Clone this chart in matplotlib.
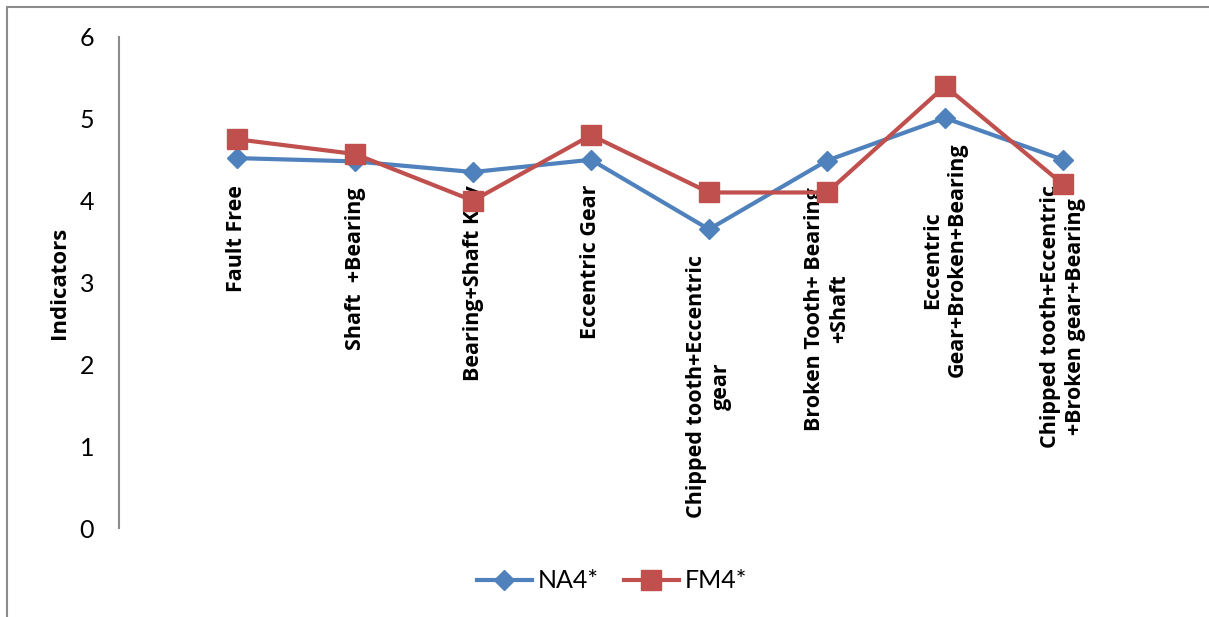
import matplotlib
matplotlib.use("Agg")
import matplotlib.pyplot as plt
from matplotlib.patches import Rectangle
from matplotlib.lines import Line2D

categories = [
    "Fault Free",
    "Shaft  +Bearing",
    "Bearing+Shaft Key",
    "Eccentric Gear",
    "Chipped tooth+Eccentric\ngear",
    "Broken Tooth+ Bearing\n+Shaft",
    "Eccentric\nGear+Broken+Bearing",
    "Chipped tooth+Eccentric\n+Broken gear+Bearing",
]
na4 = [4.52, 4.48, 4.35, 4.50, 3.65, 4.49, 5.01, 4.50]
fm4 = [4.75, 4.57, 4.00, 4.80, 4.10, 4.10, 5.40, 4.20]
y_ticks = [0, 1, 2, 3, 4, 5, 6]

BLUE = "#4F81BD"
RED = "#C0504D"
GRAY = "#8C8C8C"
FONT = "Lato"
BOLD_FONT = "Open Sans"

W, H = 1209, 617
fig = plt.figure(figsize=(W / 100, H / 100), dpi=100)

# outer chart frame
fig.add_artist(Rectangle((7 / W, -0.05), 1.2, 1 - 7 / H + 0.05, transform=fig.transFigure,
                         fill=False, edgecolor=GRAY, linewidth=1.5))

ax = fig.add_axes([119 / W, (H - 528) / H, (1181 - 119) / W, (528 - 37) / H])
x = list(range(len(categories)))
ax.plot(x, na4, color=BLUE, lw=3, marker="D", ms=10, zorder=3)
ax.plot(x, fm4, color=RED, lw=3, marker="s", ms=14, zorder=3)

ax.set_xlim(-1, 8)
ax.set_ylim(0, 6)
ax.set_yticks(y_ticks)
ax.set_yticklabels([str(v) for v in y_ticks], fontfamily=FONT, fontsize=18)
ax.tick_params(axis="y", length=0, pad=18)
ax.set_xticks([])
for s in ("top", "right", "bottom"):
    ax.spines[s].set_visible(False)
ax.spines["left"].set_color(GRAY)
ax.spines["left"].set_linewidth(1.5)
ax.patch.set_alpha(0)

ax.set_ylabel("Indicators", fontfamily=BOLD_FONT, fontsize=16, fontweight="bold", labelpad=7)

# category names, written vertically under the points
label_tops = [4.19, 4.16, 4.19, 4.19, 3.34, 4.17, 4.71, 4.19]
for xi, name, top in zip(x, categories, label_tops):
    ax.text(xi, top, name, rotation=90, ha="center", va="top", multialignment="center",
            fontfamily=BOLD_FONT, fontsize=15.5, fontweight="bold", zorder=2, linespacing=1.22)

handles = [
    Line2D([], [], color=BLUE, lw=3, marker="D", ms=10),
    Line2D([], [], color=RED, lw=3, marker="s", ms=14),
]
fig.legend(handles, ["NA4*", "FM4*"], loc="center", bbox_to_anchor=(612 / W, 1 - 581 / H),
           ncol=2, frameon=False, prop={"family": FONT, "size": 18},
           handlelength=2.2, columnspacing=1.0, handletextpad=0.25)

fig.savefig("out.png", dpi=100)
